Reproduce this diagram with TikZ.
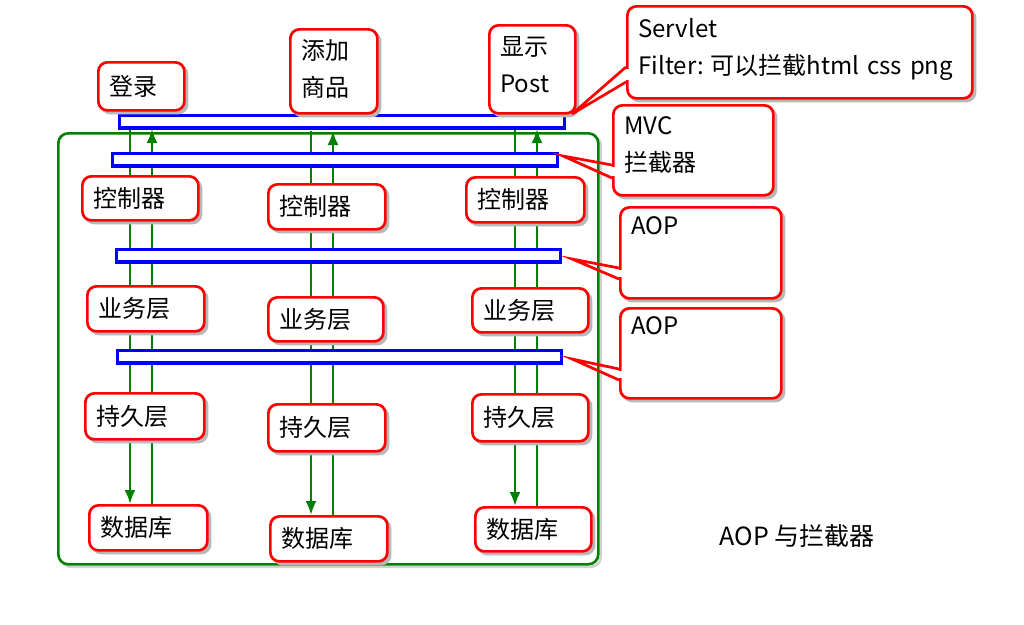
\documentclass[tikz,border=0pt]{standalone}
\usepackage{fontspec}
\setmainfont{Noto Sans CJK SC}
\usetikzlibrary{arrows.meta,shadows}
\newcommand\xdepth[1]{\rule[-#1pt]{0pt}{1pt}}
\begin{document}
\begin{tikzpicture}[x=1pt,y=-1pt,
 box/.style={draw=red, line width=2.7pt, fill=white, rounded corners=9pt,
   general shadow={fill=black!28, draw=black!28, line width=2pt, shadow xshift=3pt, shadow yshift=-3pt},
   inner xsep=11pt, inner ysep=0pt, align=left, anchor=north west,
   font=\fontsize{24}{37}\selectfont},
 sz/.style n args={3}{minimum width=#1pt, text width=#2pt, minimum height=#3pt},
 bar/.style={draw=blue, line width=3.6pt, fill=white, inner sep=0pt, anchor=north west, minimum height=12.5pt},
 frame/.style={draw=green!50!black, line width=2.6pt, fill=white, rounded corners=10pt, inner sep=0pt, anchor=north west,
   general shadow={draw=black!18, line width=2.6pt, shadow xshift=2.5pt, shadow yshift=-2.5pt}},
 flow/.style={draw=green!50!black, line width=2.4pt},
 arr/.style={flow, -{Latex[length=14pt,width=11pt]}},
 ptr/.style={draw=red, line width=2.7pt, line join=miter},
]
\useasboundingbox[fill=white] (0,0) rectangle (1024,624);

% container
\node[frame, minimum width=540pt, minimum height=431pt] (frm) at (57,132) {};

% named coordinates for flow lines (top ends)
\coordinate (Ld) at (130,129);
\coordinate (Lu) at (152,129);
\coordinate (Md) at (311,131);
\coordinate (Mu) at (333,131);
\coordinate (Rd) at (515,129);
\coordinate (Ru) at (537,129);

% database nodes
\node[box, sz={118}{96}{45}] (dbL) at (88,504) {数据库};
\node[box, sz={117}{95}{45}] (dbM) at (269,515) {数据库};
\node[box, sz={116}{94}{44}] (dbR) at (474,506) {数据库};

% flow lines
\draw[arr] (Ld) -- (Ld |- dbL.north);
\draw[arr] (Lu |- dbL.north) -- (Lu);
\draw[arr] (Md) -- (Md |- dbM.north);
\draw[arr] (Mu |- dbM.north) -- (Mu);
\draw[arr] (Rd) -- (Rd |- dbR.north);
\draw[arr] (Ru |- dbR.north) -- (Ru);

% bars
\node[bar, minimum width=445pt] (b1) at (117.8,113.8) {};
\node[bar, minimum width=445pt] (b2) at (110.8,151.8) {};
\node[bar, minimum width=444pt] (b3) at (114.8,247.8) {};
\node[bar, minimum width=444pt] (b4) at (115.8,348.8) {};

% layer boxes
\node[box, sz={116}{94}{44}] (ctrlL) at (81,175) {控制器};
\node[box, sz={117}{95}{45}] (ctrlM) at (267,183) {控制器};
\node[box, sz={118}{96}{45}] (ctrlR) at (465,176) {控制器};
\node[box, sz={117}{95}{45}] (bizL) at (86,285) {业务层};
\node[box, sz={115}{93}{44}] (bizM) at (267,296) {业务层};
\node[box, sz={116}{94}{44}] (bizR) at (471,287) {业务层};
\node[box, sz={119}{97}{46}] (persL) at (84,392) {持久层};
\node[box, sz={117}{95}{47}] (persM) at (267,403) {持久层};
\node[box, sz={116}{94}{47}] (persR) at (471,393) {持久层};

% top request boxes
\node[box, sz={86}{64}{48}] (login) at (97,61) {登录};
\node[box, sz={87}{65}{84}] (add) at (289,28) {添加\\商品\xdepth{6}};
\node[box, sz={86}{64}{88}] (show) at (488,24) {显示\\Post\xdepth{10}};

% callouts
\node[box, sz={345}{323}{92}] (srv) at (626,5) {Servlet\\Filter:\hspace{7pt}可以拦截html css png\xdepth{12}};
\node[box, sz={160}{138}{90}] (mvc) at (612,104) {MVC\\拦截器\xdepth{12}};
\node[box, sz={161}{139}{91}] (aop1) at (619,206) {AOP\\\xdepth{18}};
\node[box, sz={161}{139}{90}] (aop2) at (619,307) {AOP\\\xdepth{18}};

% pointers
\coordinate (srvT) at (572,114); \coordinate (srvA) at (626,67); \coordinate (srvB) at (626,82);
\coordinate (mvcT) at (563,156); \coordinate (mvcA) at (612,165); \coordinate (mvcB) at (612,178);
\coordinate (aop1T) at (572,259); \coordinate (aop1A) at (619,268); \coordinate (aop1B) at (619,279);
\coordinate (aop2T) at (572,359); \coordinate (aop2A) at (619,369); \coordinate (aop2B) at (619,380);
\fill[white] (623,68.8) rectangle (629,80.2);
\fill[white] (609,166.8) rectangle (615,176.2);
\fill[white] (616,269.8) rectangle (622,277.2);
\fill[white] (616,370.8) rectangle (622,378.2);
\draw[ptr] (srvA) -- (srvT) -- (srvB);
\draw[ptr] (mvcA) -- (mvcT) -- (mvcB);
\draw[ptr] (aop1A) -- (aop1T) -- (aop1B);
\draw[ptr] (aop2A) -- (aop2T) -- (aop2B);

% title
\node[font=\fontsize{25}{30}\selectfont] (title) at (797,536) {AOP 与拦截器};
\end{tikzpicture}
\end{document}
